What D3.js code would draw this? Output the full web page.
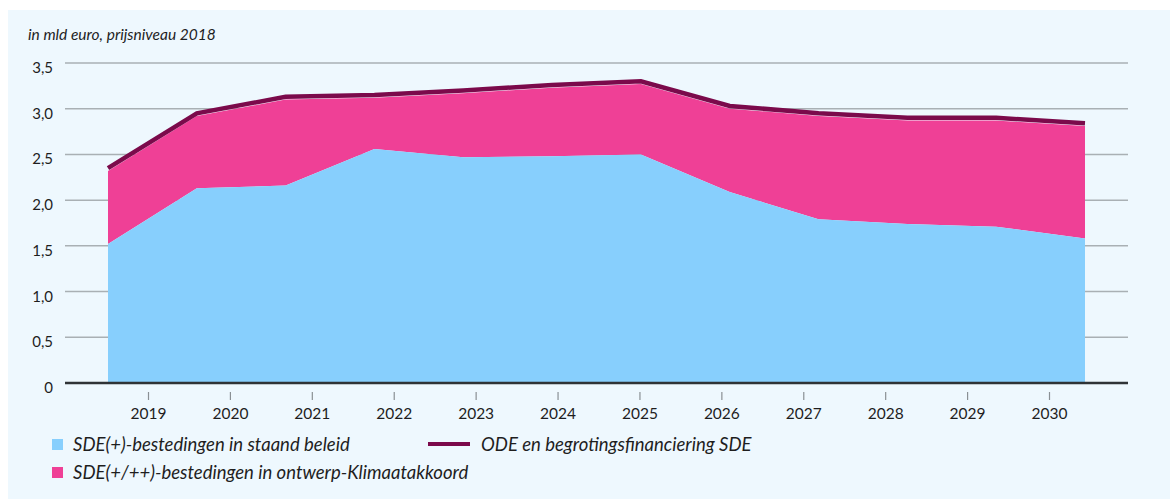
<!DOCTYPE html>
<html lang="nl">
<head>
<meta charset="utf-8">
<title>SDE bestedingen</title>
<script src="https://cdn.jsdelivr.net/npm/d3@7"></script>
<style>
  html, body { margin: 0; padding: 0; background: #ffffff; }
  svg text { font-family: Lato, "Open Sans", sans-serif; fill: #1e1e1e; }
</style>
</head>
<body>
<script>
var years = [2019, 2020, 2021, 2022, 2023, 2024, 2025, 2026, 2027, 2028, 2029, 2030];
// SDE(+)-bestedingen in staand beleid
var staandBeleid = [1.52, 2.13, 2.16, 2.56, 2.47, 2.48, 2.50, 2.09, 1.79, 1.74, 1.71, 1.58];
// extra SDE(+/++)-bestedingen in ontwerp-Klimaatakkoord
var klimaatakkoord = [0.80, 0.79, 0.94, 0.56, 0.70, 0.75, 0.77, 0.91, 1.13, 1.13, 1.16, 1.23];
// ODE en begrotingsfinanciering SDE
var odeLijn = [2.35, 2.95, 3.13, 3.15, 3.20, 3.26, 3.30, 3.03, 2.95, 2.90, 2.90, 2.84];
var yTicks = [0, 0.5, 1, 1.5, 2, 2.5, 3, 3.5];

var w = 1170, h = 499;

var svg = d3.select("body").append("svg")
    .attr("width", w)
    .attr("height", h);

// light panel
svg.append("rect")
    .attr("x", 8).attr("y", 10)
    .attr("width", w - 8).attr("height", h - 10)
    .attr("fill", "#eef8fe");

var yScale = d3.scaleLinear().domain([0, 3.5]).range([383, 63]);
// data points and axis ticks are spaced differently in the original
var xData = d3.scaleLinear().domain([2019, 2030]).range([108, 1085]);
var xAxisScale = d3.scaleLinear().domain([2019, 2030]).range([148, 1049]);

var fmt = function(d) { return d === 0 ? "0" : d3.format(".1f")(d).replace(".", ","); };

// gridlines
svg.append("g")
    .selectAll("line")
    .data(yTicks.filter(function(d) { return d > 0; }))
    .enter().append("line")
    .attr("x1", 65).attr("x2", 1128)
    .attr("y1", function(d) { return yScale(d); })
    .attr("y2", function(d) { return yScale(d); })
    .attr("stroke", "#a9b0b4")
    .attr("stroke-width", 1.5);

var rows = years.map(function(y, i) {
    return { year: y, a: staandBeleid[i], b: staandBeleid[i] + klimaatakkoord[i], ode: odeLijn[i] };
});

var areaBlue = d3.area()
    .x(function(d) { return xData(d.year); })
    .y0(yScale(0))
    .y1(function(d) { return yScale(d.a); });

var areaPink = d3.area()
    .x(function(d) { return xData(d.year); })
    .y0(function(d) { return yScale(d.a); })
    .y1(function(d) { return yScale(d.b); });

svg.append("path").datum(rows).attr("d", areaPink).attr("fill", "#ef4096");
svg.append("path").datum(rows).attr("d", areaBlue).attr("fill", "#87cffd");

var line = d3.line()
    .x(function(d) { return xData(d.year); })
    .y(function(d) { return yScale(d.ode); });

svg.append("path").datum(rows)
    .attr("d", line)
    .attr("fill", "none")
    .attr("stroke", "#7b0a4b")
    .attr("stroke-width", 4.5);

// zero axis
svg.append("line")
    .attr("x1", 65).attr("x2", 1128)
    .attr("y1", yScale(0)).attr("y2", yScale(0))
    .attr("stroke", "#2f3336")
    .attr("stroke-width", 2.5);

// y labels
svg.append("g")
    .selectAll("text")
    .data(yTicks)
    .enter().append("text")
    .attr("x", 53)
    .attr("y", function(d) { return yScale(d) + 10; })
    .attr("text-anchor", "end")
    .attr("font-size", 15)
    .text(fmt);

// x axis
var xAxis = d3.axisBottom(xAxisScale)
    .tickValues(years)
    .tickFormat(d3.format("d"))
    .tickSize(8)
    .tickPadding(8);

var gx = svg.append("g")
    .attr("transform", "translate(0," + (yScale(0) + 9) + ")")
    .call(xAxis);
gx.select(".domain").remove();
gx.selectAll(".tick line").attr("stroke", "#8a9094").attr("stroke-width", 1.2);
gx.selectAll(".tick text")
    .attr("font-size", 15.5)
    .attr("fill", "#1e1e1e")
    .style("font-family", "Lato, 'Open Sans', sans-serif");

// unit label
svg.append("text")
    .attr("x", 28).attr("y", 40)
    .attr("font-size", 15.5)
    .attr("font-style", "italic")
    .text("in mld euro, prijsniveau 2018");

// legend
var legend = svg.append("g");
legend.append("rect").attr("x", 52).attr("y", 439).attr("width", 11).attr("height", 11).attr("fill", "#87cffd");
legend.append("text").attr("x", 73).attr("y", 451).attr("font-size", 18.5).attr("font-style", "italic")
    .text("SDE(+)-bestedingen in staand beleid");
legend.append("rect").attr("x", 52).attr("y", 467).attr("width", 11).attr("height", 11).attr("fill", "#ef4096");
legend.append("text").attr("x", 73).attr("y", 479).attr("font-size", 18.5).attr("font-style", "italic")
    .text("SDE(+/++)-bestedingen in ontwerp-Klimaatakkoord");
legend.append("line").attr("x1", 428).attr("x2", 470).attr("y1", 444).attr("y2", 444)
    .attr("stroke", "#7b0a4b").attr("stroke-width", 4);
legend.append("text").attr("x", 481).attr("y", 451).attr("font-size", 18.5).attr("font-style", "italic")
    .text("ODE en begrotingsfinanciering SDE");
</script>
</body>
</html>
